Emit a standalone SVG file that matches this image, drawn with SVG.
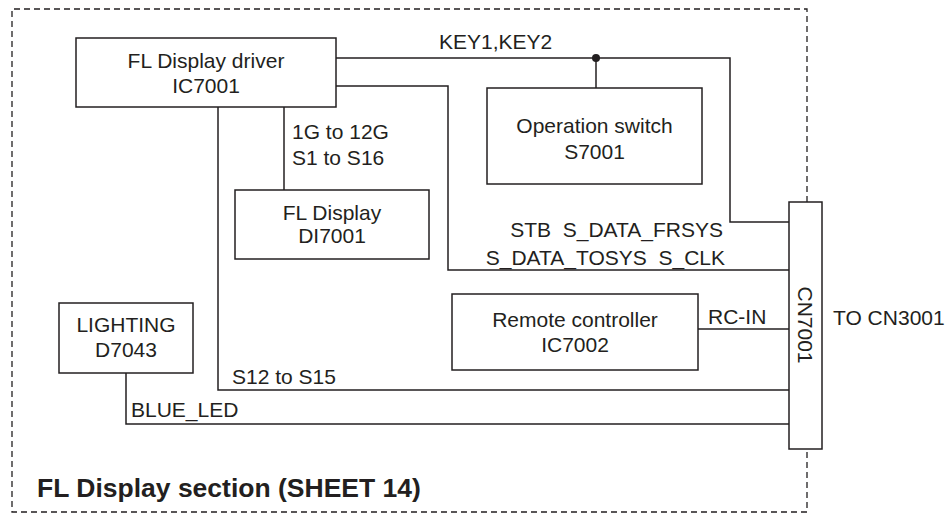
<svg xmlns="http://www.w3.org/2000/svg" width="947" height="514" viewBox="0 0 947 514">
<style>
.bx{fill:none;stroke:#231f20;stroke-width:1.5}
.ln{fill:none;stroke:#231f20;stroke-width:1.5}
.bd{fill:none;stroke:#231f20;stroke-width:1.3;stroke-dasharray:6 4}
text{font-family:"Liberation Sans",Arial,sans-serif;font-size:21px;fill:#231f20;white-space:pre}
.c{text-anchor:middle}
.e{text-anchor:end}
.t{font-weight:bold;font-size:26.5px}
</style>
<rect width="947" height="514" fill="#fff"/>
<path class="bd" d="M807,202 V9 H12 V512 H807 V449"/>
<g id="connectors">
<path class="ln" d="M336,58 H730 V222 H789"/>
<path class="ln" d="M596,58 V88"/>
<circle cx="596" cy="58" r="4" fill="#231f20"/>
<path class="ln" d="M336,86 H448 V270 H789"/>
<path class="ln" d="M284,107 V190"/>
<path class="ln" d="M218,107 V390 H789"/>
<path class="ln" d="M698,329 H789"/>
<path class="ln" d="M126,373 V424 H789"/>
<text x="439" y="49">KEY1,KEY2</text>
<text x="292" y="139">1G to 12G</text>
<text x="292" y="165">S1 to S16</text>
<text class="e" x="723" y="237">STB  S_DATA_FRSYS</text>
<text class="e" x="725" y="265">S_DATA_TOSYS  S_CLK</text>
<text x="708" y="324">RC-IN</text>
<text x="232" y="384">S12 to S15</text>
<text x="131" y="417">BLUE_LED</text>
</g>
<g id="driver">
<rect class="bx" x="76" y="38" width="260" height="69"/>
<text class="c" x="206" y="68">FL Display driver</text>
<text class="c" x="206" y="93">IC7001</text>
</g>
<g id="fldisplay">
<rect class="bx" x="235" y="190" width="194" height="69"/>
<text class="c" x="332" y="220">FL Display</text>
<text class="c" x="332" y="243">DI7001</text>
</g>
<g id="opswitch">
<rect class="bx" x="487" y="88" width="215" height="96"/>
<text class="c" x="594.5" y="133">Operation switch</text>
<text class="c" x="594.5" y="159">S7001</text>
</g>
<g id="remote">
<rect class="bx" x="452" y="294" width="246" height="76"/>
<text class="c" x="575" y="327">Remote controller</text>
<text class="c" x="575" y="352">IC7002</text>
</g>
<g id="lighting">
<rect class="bx" x="59" y="303" width="134" height="70"/>
<text class="c" x="126" y="332">LIGHTING</text>
<text class="c" x="126" y="357">D7043</text>
</g>
<g id="cn7001">
<rect class="bx" x="789" y="202" width="33" height="247" fill="#fff"/>
<text class="c" transform="translate(798,325) rotate(90)">CN7001</text>
</g>
<text x="833" y="325">TO CN3001</text>
<text class="t" x="37" y="497">FL Display section (SHEET 14)</text>
</svg>
